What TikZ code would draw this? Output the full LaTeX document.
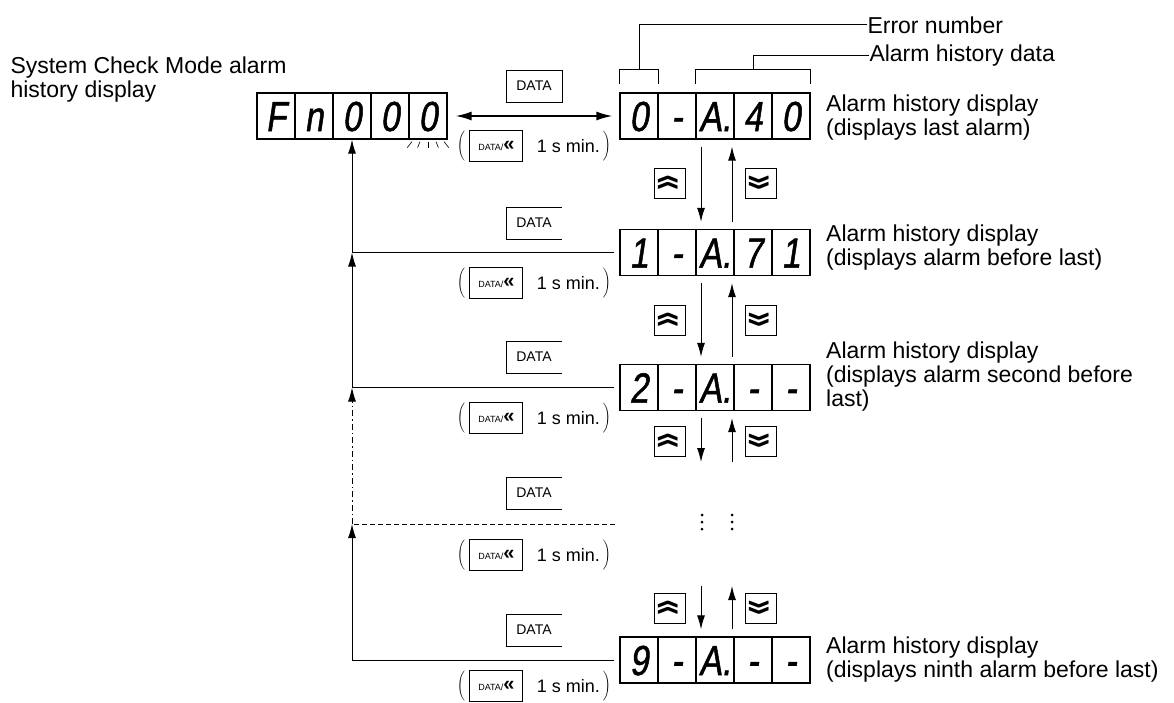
\documentclass[tikz,border=0pt]{standalone}
\usepackage{fontspec}
\setmainfont{Liberation Sans}
\newfontfamily\segfamily[FakeStretch=0.8,FakeSlant=0.15,FakeBold=1.2]{Liberation Sans}
\usepackage{graphicx}
\usepackage{tikz}
\usetikzlibrary{arrows.meta,positioning,calc}
\newcommand{\rotfont}{\fontsize{23}{24}\selectfont}
\newcommand{\teclasobe}{\rotatebox{90}{\scalebox{1}[1.8]{\bfseries »}}}
\newcommand{\tecladesce}{\rotatebox{90}{\scalebox{1}[1.8]{\bfseries «}}}
\newcommand{\tecladata}{{\fontsize{9}{9}\selectfont DATA/}{\fontsize{20}{20}\selectfont\bfseries «}}
\tikzstyle{seg}=[draw, line width=1.3pt, minimum width=38pt, minimum height=46pt, inner sep=0pt, text height=30pt, text depth=0pt, font=\segfamily\fontsize{42}{42}\selectfont]
\tikzstyle{rotulo}=[font=\rotfont, align=left, inner sep=0pt]
\tikzstyle{teclabox}=[minimum width=55pt, minimum height=31pt, inner sep=0pt, font=\fontsize{14}{14}\selectfont]
\tikzstyle{teclamenor}=[draw, minimum width=53pt, minimum height=31pt, inner sep=0pt]
\tikzstyle{setabox}=[draw, minimum width=31pt, minimum height=30pt, inner sep=0pt, font=\fontsize{28}{28}\selectfont]
\tikzstyle{paren}=[inner sep=0pt]
\tikzstyle{minfont}=[inner sep=0pt, font=\fontsize{18}{18}\selectfont]
\tikzstyle{setastyle}=[->, >={Latex[length=14pt,width=8pt]}, line width=1pt]
\tikzstyle{setadupla}=[<->, >={Latex[length=16pt,width=9pt]}, line width=1.6pt]

\begin{document}
\begin{tikzpicture}[x=1pt, y=-1pt, line width=1pt]
    \useasboundingbox (0,0) rectangle (1174,702);

    % Visor do modo System Check
    \node[rotulo, anchor=north west] (titulo) at (10,56) {System Check Mode alarm\\history display};
    \foreach \val [count=\i from 0] in {F,n,0,0,0} {
      \node[seg] (fn\i) at (276+\i*38, 116) {\val};
    }
    \foreach \d in {-16,-8,0,8,16} {
      \draw[line width=0.6pt] ($(fn4.south)+(\d,2)$) -- ($(fn4.south)+(1.3*\d,8)$);
    }

    % Visores do historico
    \foreach \val [count=\i from 0] in {0,-,A.,4,0} {
      \node[seg] (zero\i) at (639+\i*38, 116) {\val};
    }
    \foreach \val [count=\i from 0] in {1,-,A.,7,1} {
      \node[seg] (um\i) at (639+\i*38, 252.5) {\val};
    }
    \foreach \val [count=\i from 0] in {2,-,A.,-,-} {
      \node[seg] (dois\i) at (639+\i*38, 387.5) {\val};
    }
    \foreach \val [count=\i from 0] in {9,-,A.,-,-} {
      \node[seg] (nove\i) at (639+\i*38, 660) {\val};
    }
    \node[rotulo, right=15pt of zero4, yshift=-2pt] (r0) {Alarm history display\\(displays last alarm)};
    \node[rotulo, right=15pt of um4, yshift=5pt] (r1) {Alarm history display\\(displays alarm before last)};
    \node[rotulo, right=15pt of dois4, yshift=11pt] (r2) {Alarm history display\\(displays alarm second before\\last)};
    \node[rotulo, right=15pt of nove4] (r9) {Alarm history display\\(displays ninth alarm before last)};

    % Chaves sobre o primeiro visor
    \draw ([yshift=8pt]zero0.north west) -- ([yshift=23pt]zero0.north west) -- ([yshift=23pt]zero0.north east) -- ([yshift=8pt]zero0.north east);
    \draw ([yshift=8pt]zero2.north west) -- ([yshift=23pt]zero2.north west) -- ([yshift=23pt]zero4.north east) -- ([yshift=8pt]zero4.north east);
    \node[rotulo, anchor=base west] (erro) at (867,33) {Error number};
    \node[rotulo, anchor=base west] (dados) at (869,61) {Alarm history data};
    \draw (erro.west) -| ([yshift=23pt]zero0.north);
    \draw (dados.west) -| ([yshift=23pt]zero3.north);

    % Teclas DATA
    \foreach \y [count=\i from 0] in {86,223,357,493,630} {
      \node[teclabox] (k\i) at (534,\y) {DATA};
    }
    \draw (k0.north west) rectangle (k0.south east);
    \foreach \i in {1,...,4} {
      \draw (k\i.north east) -- (k\i.north west) -- (k\i.south west) -- (k\i.south east);
    }
    \foreach \y [count=\i from 0] in {146,283,418,555,686} {
      \node[paren] (pa\i) at (461,\y) {$\Bigg($};
      \node[teclamenor, right=4pt of pa\i] (t\i) {\tecladata};
      \node[minfont, right=13pt of t\i] (m\i) {1 s min.};
      \node[paren, right=2pt of m\i] (pb\i) {$\Bigg)$};
    }

    % Setas para o visor Fn000
    \draw[setadupla, shorten <=8pt, shorten >=7pt] (fn4.east) -- (zero0.west);
    \draw[setastyle, shorten <=5pt] (um0.west) -| (fn2.south);
    \draw[setastyle, shorten <=5pt] (dois0.west) -| (fn2 |- um0);
    \coordinate (tracos) at (615,524);
    \draw[dash pattern=on 5pt off 3pt] (tracos) -- (fn2 |- tracos);
    \draw[setastyle, dash pattern=on 6pt off 3pt on 1.5pt off 3pt] (fn2 |- tracos) -- (fn2 |- dois0);
    \draw[setastyle, shorten <=5pt] (nove0.west) -| (fn2 |- tracos);

    % Teclas e setas entre visores
    \foreach \y [count=\i] in {183,320,441,608} {
      \node[setabox] (sobe\i) at (670,\y) {\teclasobe};
      \node[setabox] (desce\i) at (761,\y) {\tecladesce};
    }
    \node[inner sep=0pt] (meio1) at (715,470) {};
    \node[inner sep=0pt] (meio2) at (715,578) {};
    \foreach \a/\b in {zero2/um2, um2/dois2, dois2/meio1, meio2/nove2} {
      \draw[setastyle, shorten <=7pt, shorten >=7pt] ([xshift=-14pt]\a.south) -- ([xshift=-14pt]\b.north);
      \draw[setastyle, shorten <=7pt, shorten >=7pt] ([xshift=17pt]\b.north) -- ([xshift=17pt]\a.south);
    }
    % pontos
    \foreach \y in {515,522,529} {
      \fill (702,\y) circle (1.5);
      \fill (732,\y) circle (1.5);
    }
  \end{tikzpicture}
\end{document}
